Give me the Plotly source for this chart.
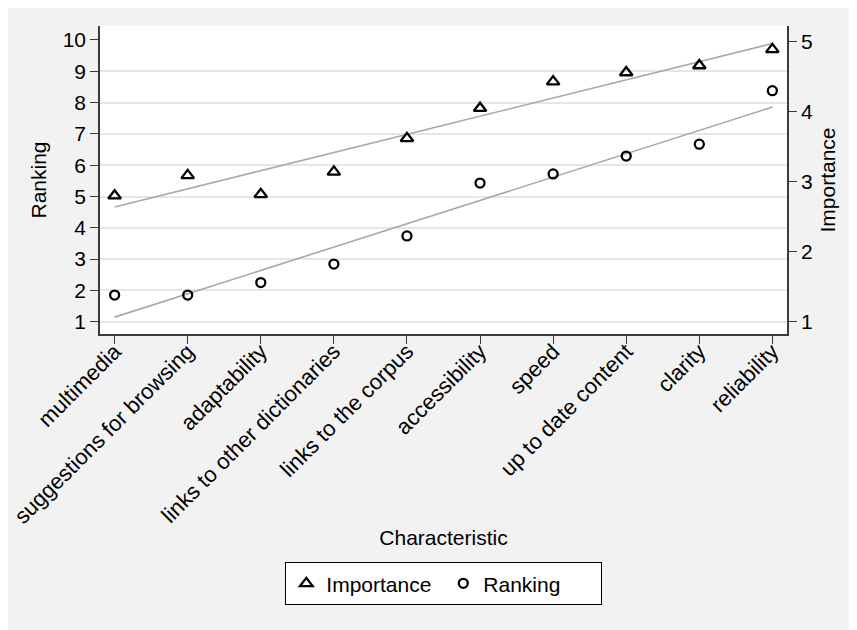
import numpy as np
import plotly.graph_objects as go

categories = ["multimedia", "suggestions for browsing", "adaptability",
              "links to other dictionaries", "links to the corpus", "accessibility",
              "speed", "up to date content", "clarity", "reliability"]
importance = [2.80, 3.09, 2.82, 3.14, 3.62, 4.05, 4.43, 4.56, 4.66, 4.89]
ranking = [1.85, 1.85, 2.25, 2.84, 3.74, 5.43, 5.72, 6.29, 6.67, 8.38]
ranking_ticks = [1, 2, 3, 4, 5, 6, 7, 8, 9, 10]
grid_ticks = [1, 2, 3, 4, 5, 6, 7, 8, 9]
importance_ticks = [1, 2, 3, 4, 5]

x = np.arange(len(categories))
imp_fit = np.polyval(np.polyfit(x, importance, 1), x)
rank_fit = np.polyval(np.polyfit(x, ranking, 1), x)

FONT = "Liberation Sans, Arial, sans-serif"
AX = "#3a3a3a"
FIT = "#a8a8a8"
FS = 21

fig = go.Figure()
fig.add_trace(go.Scatter(x=x, y=imp_fit, mode="lines", yaxis="y2",
                         line=dict(color=FIT, width=1.6), showlegend=False, hoverinfo="skip"))
fig.add_trace(go.Scatter(x=x, y=rank_fit, mode="lines", yaxis="y",
                         line=dict(color=FIT, width=1.6), showlegend=False, hoverinfo="skip"))
fig.add_trace(go.Scatter(x=x, y=importance, mode="markers", name="Importance", yaxis="y2",
                         marker=dict(symbol="triangle-up-open", size=11, color="black",
                                     line=dict(color="black", width=2.3))))
fig.add_trace(go.Scatter(x=x, y=ranking, mode="markers", name="Ranking", yaxis="y",
                         marker=dict(symbol="circle-open", size=9, color="black",
                                     line=dict(color="black", width=2.3))))

fig.update_layout(
    width=849, height=622,
    margin=dict(l=92, r=70, t=18, b=296),
    paper_bgcolor="#f2f2f2", plot_bgcolor="white",
    font=dict(family=FONT, color="black", size=FS),
    xaxis=dict(range=[-0.2, 9.2], tickmode="array", tickvals=list(x), ticktext=categories,
               tickangle=-45, ticks="outside", ticklen=8, tickcolor=AX, tickwidth=1.3,
               showline=True, linecolor=AX, linewidth=1.6, showgrid=False, zeroline=False,
               tickfont=dict(size=22), ticklabelstandoff=-14, automargin=False,
               title=dict(text="Characteristic", font=dict(size=FS), standoff=3)),
    yaxis=dict(range=[0.607, 10.447], side="left", tickmode="array", automargin=False,
               tickvals=ranking_ticks, ticks="outside", ticklen=8, tickcolor=AX, tickwidth=1.3,
               showline=True, linecolor=AX, linewidth=1.6, showgrid=False, zeroline=False,
               minor=dict(tickmode="array", tickvals=grid_ticks, showgrid=True,
                          gridcolor="#e6e6e6", gridwidth=1.8, ticks=""),
               tickfont=dict(size=FS),
               title=dict(text="Ranking", font=dict(size=FS), standoff=10)),
    yaxis2=dict(range=[0.824, 5.224], overlaying="y", side="right", tickmode="array",
                automargin=False,
                tickvals=importance_ticks, ticks="outside", ticklen=8, tickcolor=AX, tickwidth=1.3,
                showline=True, linecolor=AX, linewidth=1.6, showgrid=False, zeroline=False,
                tickfont=dict(size=FS),
                title=dict(text="Importance", font=dict(size=FS), standoff=8)),
    legend=dict(orientation="h", x=0.5, xanchor="center", y=-0.74, yanchor="top",
                bgcolor="white", bordercolor="black", borderwidth=1.3,
                font=dict(size=FS), traceorder="normal", entrywidth=112),
)
fig.write_html("out.html")
